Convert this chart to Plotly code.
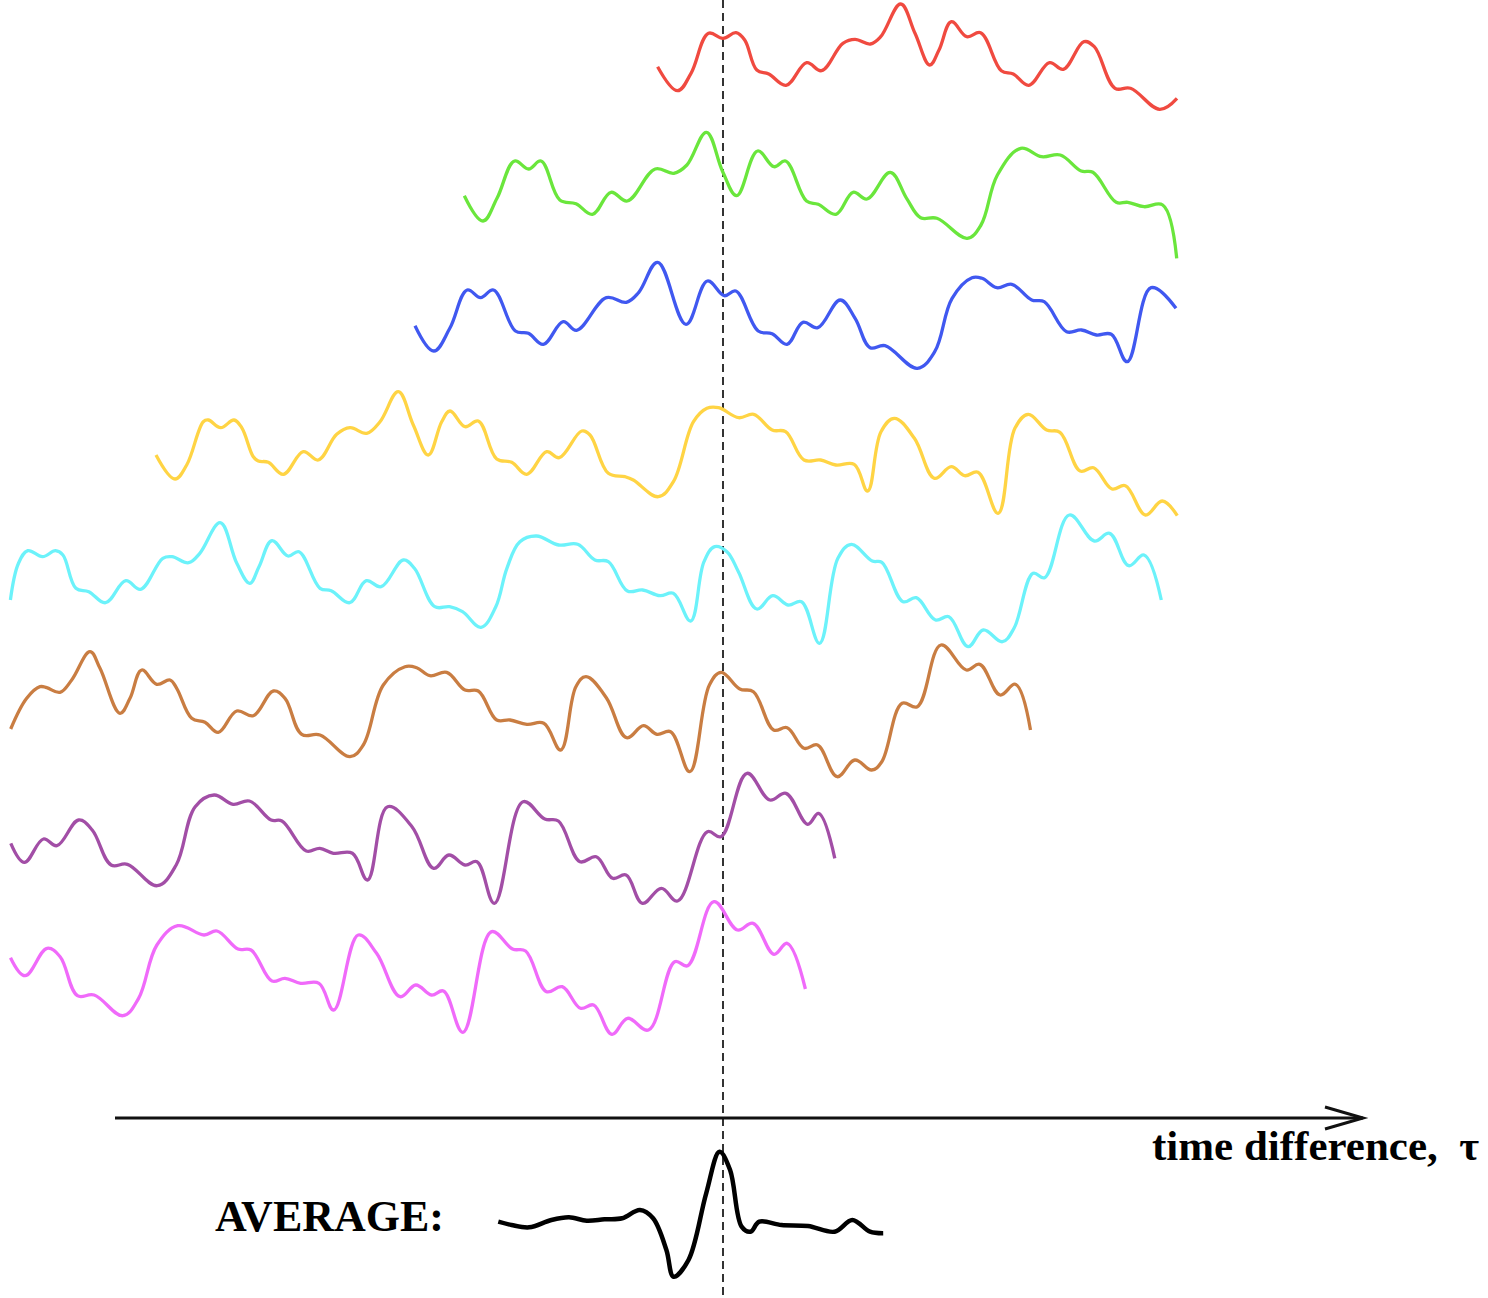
import plotly.graph_objects as go

# ---- data (pixel-like units: x = time, y = vertical offset, top = 0) ----
x_red = [657.6, 677.6, 691, 708.5, 723, 736, 744.7, 756.8, 768.8, 786, 806.7, 821.5, 842.9, 855, 870.4, 880.7,
         900.7, 915, 929.7, 939, 951.4, 966.8, 980.6, 1001.3, 1013.3, 1028.8, 1049.5, 1063.3, 1084, 1094.3,
         1115, 1130.5, 1159.7, 1177]
y_red = [66.7, 90.7, 73.3, 33.3, 38.3, 32.7, 40, 70, 74, 85.3, 62.7, 70.7, 43.3, 39.3, 44, 36.7,
         4, 33.3, 65, 50, 21.7, 36.7, 32.7, 70.7, 74, 85.3, 62.7, 69.3, 41.7, 46.7,
         88.3, 88.3, 109.3, 98.3]

x_green = [464.3, 483, 497, 514.6, 528.6, 541, 559.8, 576, 592.4, 611, 627.3, 655.2, 673.8, 686.9, 706.4,
           722.7, 736.7, 757.6, 774, 785.6, 806.5, 818.2, 835.9, 853.1, 867, 890.3, 906.6, 920.6, 936.9,
           967.2, 981, 997.4, 1020.7, 1041.7, 1060.3, 1081.2, 1092.9, 1116.2, 1127.8, 1144.1, 1162.7, 1176.7]
y_green = [195.7, 221, 198.3, 161, 169, 161, 200, 203.7, 214.3, 192.3, 201, 169, 173.3, 165, 132.3,
           171.7, 195.7, 151, 166.7, 161, 201, 204.3, 214.3, 192.3, 199, 172.3, 198.3, 217.7, 218.3,
           238.3, 225, 175, 148.3, 156.7, 155, 171, 172.3, 202.3, 202.3, 206.7, 205, 258.3]

x_blue = [415, 433.8, 449.8, 467.2, 480.6, 493.5, 515.4, 528.4, 543.3, 563.2, 576.6, 606.4, 626.3, 638.8,
          657.7, 686, 707.4, 724.3, 735.8, 758.2, 772.1, 787, 802.9, 817.8, 840.2, 855.1, 870.1, 885,
          917.3, 934.7, 952.1, 972, 982, 996.9, 1011.8, 1031.7, 1044.2, 1066.6, 1081.5, 1096.4, 1111.3,
          1127.2, 1151.1, 1176]
y_blue = [325.7, 351, 328.3, 290, 297.7, 290, 331, 333.3, 344.3, 321.7, 330.3, 297.7, 302.3, 292.3,
          262.3, 324.3, 281, 295.7, 291, 331, 333.7, 344.3, 322.3, 327.7, 300, 318.3, 347.7, 345.7,
          368.3, 351.7, 298.3, 277.7, 278.3, 287.7, 284.3, 300, 301.7, 331.7, 330, 335, 334.3,
          361.7, 287.7, 308.3]

x_yellow = [156, 175, 186.7, 203.3, 208.3, 220.7, 234, 241.7, 253.3, 258.3, 268.3, 283.3, 303.3, 318.3,
            336.7, 350, 366.7, 380, 398.3, 413.3, 428.3, 441.7, 450, 465, 478.3, 496.7, 511.7, 526.7,
            546.7, 559.3, 581.7, 590, 608.3, 625, 633.3, 658.3, 673.4, 693.5, 706.9, 718.6, 738.7,
            753.7, 772.2, 785.6, 804, 820.7, 835.8, 854.2, 867.6, 881, 894.4, 914.4, 934.5, 951.3,
            964.7, 978, 998.1, 1014.9, 1028.3, 1046.7, 1060, 1080.2, 1093.6, 1112, 1125.4, 1145.5,
            1162.2, 1177.3]
y_yellow = [455, 479, 465, 421.7, 420, 427.7, 420, 427.7, 456.7, 461, 462.3, 474.3, 451.7, 460,
            434.3, 427.7, 433.3, 421.7, 391.7, 425, 455, 421.7, 411, 426.7, 421, 459, 462.3, 474.3,
            451.7, 457.7, 431, 435, 473.3, 476.7, 480, 496.7, 481.7, 421.7, 408.3, 407.7, 417.7,
            414.3, 430, 431.7, 460, 460, 465, 464.3, 491, 431.7, 418.3, 438.3, 478.3, 466.7,
            475.7, 472.3, 513.3, 428.3, 414.3, 430, 432.3, 471, 467.7, 489, 485.7, 515,
            501, 515.7]

x_cyan = [10.4, 18.5, 27.8, 42.6, 55.5, 62.9, 75.9, 88.8, 105.5, 125.8, 140.6, 162.8, 172, 188.7, 199.8,
          220.2, 236.8, 249.8, 259, 272, 287.9, 299, 320, 331.2, 349.7, 366.3, 381.1, 403.3, 414.4,
          434.8, 449.6, 462.5, 481, 495.8, 506.9, 519.9, 536.5, 558.7, 577.7, 594.9, 608.3, 627.4,
          642.7, 660, 673.3, 690.6, 704, 714.7, 726.9, 738.4, 756.8, 772.8, 788.1, 801.5, 819.5,
          837.9, 851.3, 872.3, 881.9, 903, 916.3, 935.5, 948.9, 968, 983.3, 1002.4, 1014, 1033.1,
          1044.6, 1069.4, 1094.3, 1109.6, 1128.7, 1144, 1161.3]
y_cyan = [600, 563.3, 550.7, 556.7, 550.7, 555, 588.3, 591.7, 602.7, 580.7, 589.3, 558.3, 556.7, 562.7, 553.3,
          522.7, 563.3, 583.3, 566.7, 540.7, 556, 551.7, 588.3, 590.7, 602.7, 580.7, 586.7, 560, 568.3,
          606.7, 606.7, 611.7, 627.3, 606.7, 568.3, 541.7, 536, 545, 544.3, 560, 561.7, 591,
          590, 595.7, 593.3, 621, 561.7, 546.7, 551.7, 571.7, 609, 595.7, 605, 601.7, 643.3,
          558.3, 544.3, 561, 562.3, 601.7, 597.7, 620, 616.7, 646.7, 630, 641.7, 628.3, 573.3,
          577.7, 515, 541, 533.3, 565.7, 555, 600]

x_brown = [10.7, 26.7, 40, 46.7, 60, 71.7, 90, 100, 120, 130, 141.7, 156.7, 170, 176.7, 191.7, 205, 218.3,
           236.7, 253.3, 273.3, 285, 301.7, 320, 350, 363.3, 383.3, 405, 416.7, 430, 446.7, 465, 478.3,
           496.7, 510, 526.9, 543.8, 560.7, 575.9, 586, 606.3, 626.6, 643.5, 657, 670.6, 689.8, 709.4,
           721.2, 739.8, 753.4, 773.6, 787.2, 804, 817.6, 837.2, 854.8, 871.7, 881.8, 902.1, 917.3,
           941, 966.3, 979.8, 1000.1, 1015.3, 1030.5]
y_brown = [729, 698.3, 686.7, 687.7, 692.3, 680, 651.7, 668.3, 713.3, 698.3, 670, 684.3, 680, 688.3, 718.3,
           722.3, 732.3, 711, 715.7, 691, 698.3, 734.3, 735, 756.7, 745, 685, 666.7, 667.7, 675.7, 672.3,
           690, 691, 720, 720, 724.3, 723.3, 750, 686.7, 676.7, 697.7, 737.7, 725.7, 734.3, 731.7,
           771.7, 685, 672.3, 689, 691.7, 730, 727.7, 748.3, 745, 776.7, 760, 770, 761.7, 703.3,
           706.7, 645, 670, 664.3, 695, 684.3, 730]

x_purple = [10.8, 24.4, 43.4, 56.9, 78.6, 92.2, 111.1, 127.4, 157.2, 176.2, 195.2, 214.1, 233.1, 249.4,
            271.1, 281.9, 306.3, 319.8, 333.4, 352.4, 367.5, 387.6, 412, 433.7, 448.9, 465.1, 477,
            494.4, 523.1, 544.8, 558.4, 580, 596.3, 612.6, 626.1, 642.4, 661.4, 677.6, 707.4, 721,
            747, 769.8, 786, 807.7, 818.6, 834.8]
y_purple = [843.3, 862.3, 839, 845.7, 820, 830, 865, 864.3, 885.7, 865, 806.7, 795, 804.3, 801,
            820, 821, 851, 848.3, 853.3, 853.3, 880, 806.7, 826.7, 868.3, 855, 865, 861.7,
            903.3, 801.7, 819, 821, 861.7, 856.7, 878.3, 875, 903.3, 888.3, 901, 831.7, 836.7,
            773.3, 800, 793.3, 824.3, 813.3, 858.3]

x_magenta = [10.5, 25.1, 47.1, 60.1, 77.4, 94.1, 122.9, 138.6, 156.9, 177.8, 204, 217, 238, 251, 272, 285,
             300.7, 319, 333.7, 358.3, 376.6, 400.1, 415.8, 431.5, 443.5, 462.9, 491.6, 512.5, 525.6,
             546.5, 562.2, 580.5, 593.6, 611.9, 627.6, 648.5, 674.7, 687.7, 713.9, 737.4, 753.1, 774,
             787.1, 805.4]
y_magenta = [957.7, 975.7, 948.3, 956.7, 995.7, 995, 1015.7, 998.3, 945, 925.7, 935, 931, 949, 950, 981,
             978.3, 983.3, 983.3, 1010, 935, 953.3, 996.7, 985, 995, 991, 1032.3, 931.7, 949, 951,
             991.7, 986.7, 1008.3, 1005, 1034.3, 1018.3, 1030, 961.7, 965.7, 901.7, 930, 923.3, 954.3,
             943.3, 989]

x_avg = [498.3, 511.5, 529.2, 551.4, 569, 586.8, 604.5, 622.2, 639.9, 653.1, 666.4, 673.5, 688.5, 706.2,
         719.5, 730.1, 741.6, 750.5, 759.3, 781.5, 808, 834.6, 852.3, 870, 883.2]
y_avg = [1221.7, 1225, 1227.3, 1220, 1217.3, 1220.7, 1219.3, 1218.3, 1210, 1218.3, 1250, 1276.7, 1260,
         1193.3, 1151.7, 1170, 1226.7, 1231.7, 1221.7, 1225, 1226, 1231.7, 1220, 1231.7, 1233.3]

zero_lag = 723          # position of the dashed reference line
axis_start, axis_end, axis_level = 115, 1363, 1118
x_label = "time difference,  τ"
avg_label = "AVERAGE:"

series = [
    (x_red, y_red, "#f04a40"),
    (x_green, y_green, "#6ae63c"),
    (x_blue, y_blue, "#4058f0"),
    (x_yellow, y_yellow, "#ffd444"),
    (x_cyan, y_cyan, "#6cf2fa"),
    (x_brown, y_brown, "#c97d42"),
    (x_purple, y_purple, "#a24ea6"),
    (x_magenta, y_magenta, "#f06afa"),
]

fig = go.Figure()
for xs, ys, col in series:
    fig.add_trace(go.Scatter(x=xs, y=ys, mode="lines",
                             line=dict(color=col, width=3.3, shape="spline", smoothing=1.1),
                             hoverinfo="skip", showlegend=False))
fig.add_trace(go.Scatter(x=x_avg, y=y_avg, mode="lines",
                         line=dict(color="black", width=4.5, shape="spline", smoothing=1.0),
                         hoverinfo="skip", showlegend=False))

# dashed zero-lag line
fig.add_shape(type="line", x0=zero_lag, x1=zero_lag, y0=0, y1=1298, xref="x", yref="y",
              line=dict(color="#333333", width=2, dash="8px,5px"), layer="below")
# time axis with arrow
fig.add_shape(type="line", x0=axis_start, x1=axis_end, y0=axis_level, y1=axis_level, xref="x", yref="y",
              line=dict(color="#111111", width=3))
fig.add_shape(type="path",
              path=f"M {axis_end-38},{axis_level-11} L {axis_end},{axis_level} L {axis_end-38},{axis_level+11}",
              xref="x", yref="y", line=dict(color="#111111", width=3))

fig.add_annotation(x=1150, y=1145, xref="x", yref="y", text=f"<b>{x_label}</b>", showarrow=False,
                   xanchor="left", yanchor="middle",
                   font=dict(family="Liberation Serif", size=43, color="black"))
fig.add_annotation(x=213, y=1216, xref="x", yref="y", text=f"<b>{avg_label}</b>", showarrow=False,
                   xanchor="left", yanchor="middle",
                   font=dict(family="Liberation Serif", size=44, color="black"))

fig.update_layout(
    width=1488, height=1298, margin=dict(l=0, r=0, t=0, b=0),
    paper_bgcolor="white", plot_bgcolor="white",
    xaxis=dict(range=[0, 1488], visible=False, fixedrange=True),
    yaxis=dict(range=[1298, 0], visible=False, fixedrange=True),
)
fig.write_html("out.html")
